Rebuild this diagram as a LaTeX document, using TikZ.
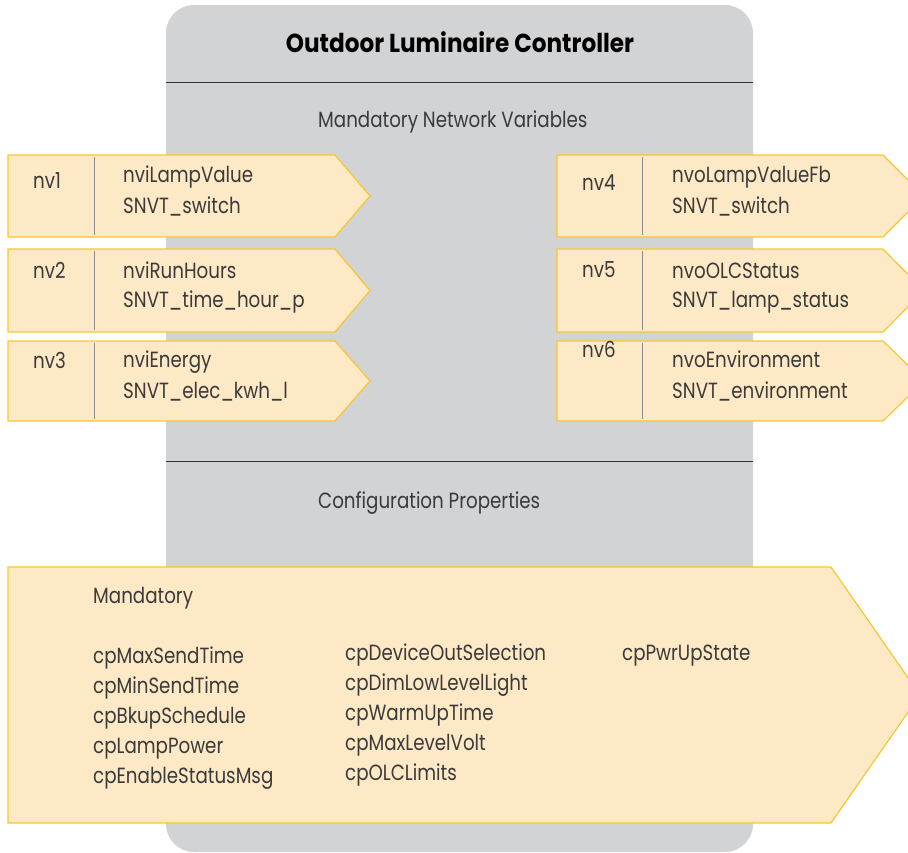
\documentclass[tikz,border=0pt]{standalone}
\usepackage{fontspec}
\setmainfont{Poppins}[FakeStretch=0.83]
\newfontfamily\titlefont{Poppins}[FakeStretch=0.89]
\definecolor{graybg}{HTML}{D2D3D5}
\definecolor{boxfill}{HTML}{FEE9C6}
\definecolor{boxline}{HTML}{F9C72B}
\definecolor{txtc}{HTML}{3A3A3A}
\definecolor{divc}{HTML}{8C8C8C}
\definecolor{linec}{HTML}{333333}
\begin{document}
\begin{tikzpicture}[x=1pt,y=-1pt,
  txt/.style={anchor=base west,inner sep=0pt,text=txtc,font=\fontsize{22}{26}\selectfont},
  ttl/.style={anchor=base,inner sep=0pt,text=black,font=\titlefont\fontsize{26}{30}\selectfont\bfseries},
  arrowbox/.style={fill=boxfill,draw=boxline,line width=1.2pt,line join=miter},
  divider/.style={draw=divc,line width=1pt},
  sect/.style={draw=linec,line width=1pt}]
\useasboundingbox (0,0) rectangle (908,852);
\fill[graybg,rounded corners=28] (166,5) rectangle (753,852);
\node[ttl] (title) at (460,52) {Outdoor Luminaire Controller};
\draw[sect] (166,82) -- (753,82);
\node[txt] (mnv) at (318,127) {Mandatory Network Variables};
\draw[sect] (166,461) -- (753,461);
\node[txt] (cfg) at (318,508) {Configuration Properties};
% left arrows
\draw[arrowbox] (8,155) -- (335,155) -- (370,196) -- (335,237) -- (8,237) -- cycle;
\draw[divider] (94,157) -- (94,235);
\draw[arrowbox] (8,249) -- (335,249) -- (370,290.5) -- (335,332) -- (8,332) -- cycle;
\draw[divider] (94,251) -- (94,330);
\draw[arrowbox] (8,341) -- (335,341) -- (370,381) -- (335,421) -- (8,421) -- cycle;
\draw[divider] (94,343) -- (94,419);
% right arrows
\draw[arrowbox] (557,155) -- (883,155) -- (924,196) -- (883,237) -- (557,237) -- cycle;
\draw[divider] (642,157) -- (642,235);
\draw[arrowbox] (557,249) -- (883,249) -- (924,290.5) -- (883,332) -- (557,332) -- cycle;
\draw[divider] (642,251) -- (642,330);
\draw[arrowbox] (557,341) -- (883,341) -- (924,381) -- (883,421) -- (557,421) -- cycle;
\draw[divider] (642,343) -- (642,419);
% big arrow
\draw[arrowbox] (8,567) -- (831,567) -- (920,695) -- (831,823) -- (8,823) -- cycle;
% left texts
\node[txt] (nv1) at (33,188) {nv1};
\node[txt] (n1a) at (123,182) {nviLampValue};
\node[txt] (n1b) at (123,213) {SNVT\_switch};
\node[txt] (nv2) at (33,278) {nv2};
\node[txt] (n2a) at (123,278) {nviRunHours};
\node[txt] (n2b) at (123,307) {SNVT\_time\_hour\_p};
\node[txt] (nv3) at (33,368) {nv3};
\node[txt] (n3a) at (123,367) {nviEnergy};
\node[txt] (n3b) at (123,398) {SNVT\_elec\_kwh\_l};
% right texts
\node[txt] (nv4) at (582,190) {nv4};
\node[txt] (n4a) at (672,182) {nvoLampValueFb};
\node[txt] (n4b) at (672,213) {SNVT\_switch};
\node[txt] (nv5) at (582,277) {nv5};
\node[txt] (n5a) at (672,278) {nvoOLCStatus};
\node[txt] (n5b) at (672,307) {SNVT\_lamp\_status};
\node[txt] (nv6) at (582,357) {nv6};
\node[txt] (n6a) at (672,367) {nvoEnvironment};
\node[txt] (n6b) at (672,398) {SNVT\_environment};
% config properties
\node[txt] (mand) at (93,603) {Mandatory};
\node[txt] (c11) at (93,663) {cpMaxSendTime};
\node[txt] (c12) at (93,693) {cpMinSendTime};
\node[txt] (c13) at (93,723) {cpBkupSchedule};
\node[txt] (c14) at (93,753) {cpLampPower};
\node[txt] (c15) at (93,783) {cpEnableStatusMsg};
\node[txt] (c21) at (345,660) {cpDeviceOutSelection};
\node[txt] (c22) at (345,690) {cpDimLowLevelLight};
\node[txt] (c23) at (345,720) {cpWarmUpTime};
\node[txt] (c24) at (345,750) {cpMaxLevelVolt};
\node[txt] (c25) at (345,780) {cpOLCLimits};
\node[txt] (c31) at (622,660) {cpPwrUpState};
\end{tikzpicture}
\end{document}
